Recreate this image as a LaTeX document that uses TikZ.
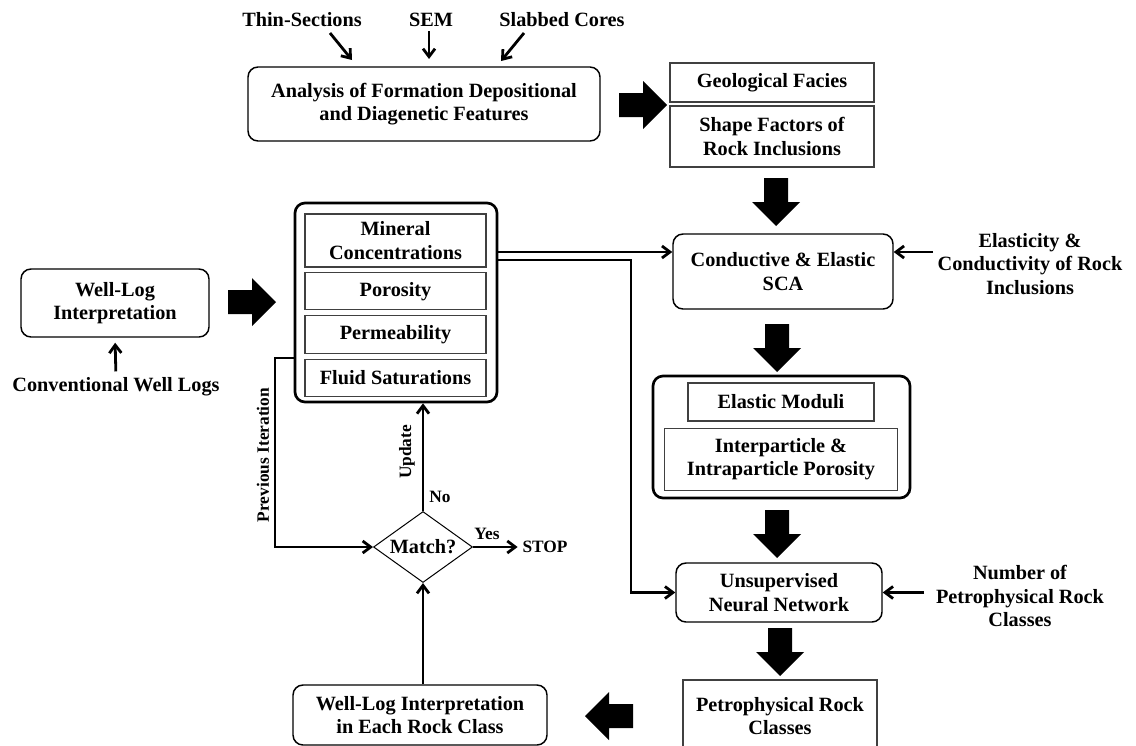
\documentclass[tikz,border=0pt]{standalone}
\usepackage{fontspec}
\setmainfont{Liberation Serif}
\usepackage{tikz}
\usetikzlibrary{arrows.meta}
\usetikzlibrary{shapes.geometric}
\usetikzlibrary{positioning}

\begin{document}
\begin{tikzpicture}[x=0.75pt,y=-0.75pt,node distance=3.5pt]
        \tikzstyle{every node}=[font=\fontsize{15.2}{17.5}\selectfont\bfseries,align=center,inner sep=0pt]
        \tikzstyle{rbox}=[draw,rounded corners=7.5pt,line width=1.1pt]
        \tikzstyle{frame}=[draw,rounded corners=7.5pt,line width=2pt]
        \tikzstyle{sbox}=[draw,black!75,text=black,line width=0.8pt]
        \tikzstyle{link}=[-{Straight Barb[length=6pt,width=9pt]},line width=2.1pt]
        \tikzstyle{small}=[font=\fontsize{13}{15}\selectfont\bfseries]
        \tikzset{fat/.pic={\fill (0,-12) -- (24,-12) -- (24,-24) -- (48,0) -- (24,24) -- (24,12) -- (0,12) -- cycle;}}
        \useasboundingbox (0,0) rectangle (1136,746);
        \clip (0,0) rectangle (1136,746);
        \node (thin) at (302,20) {Thin-Sections};
        \node (sem) at (431,20) {SEM};
        \node (slab) at (562,20) {Slabbed Cores};
        \node[rbox,minimum width=264pt,minimum height=55.5pt] (anal) at (424,104) {Analysis of Formation Depositional\\and Diagenetic Features};
        \coordinate (t1) at (330,33);
        \coordinate (t2) at (352,60);
        \coordinate (s1) at (429,31);
        \coordinate (s2) at (429,59);
        \coordinate (c1) at (524,33);
        \coordinate (c2) at (501,61);
        \draw[link] (t1) -- (t2);
        \draw[link] (s1) -- (s2);
        \draw[link] (c1) -- (c2);
        \pic at (619,105) {fat};
        \node[sbox,minimum width=153pt,minimum height=29.25pt] (geo) at (772,82.5) {Geological Facies};
        \node[sbox,minimum width=153pt,minimum height=45.75pt] (shape) at (772,136.5) {Shape Factors of\\Rock Inclusions};
        \pic[rotate=-90] at (776,178) {fat};
        \node[rbox,minimum width=165pt,minimum height=56.25pt] (cond) at (783,271.5) {Conductive \& Elastic\\SCA};
        \node (elast) at (1030,264) {Elasticity \&\\Conductivity of Rock\\Inclusions};
        \coordinate (elin) at (933,252);
        \draw[link] (elin) -- (elin -| cond.east);
        \node[rbox,minimum width=141pt,minimum height=51pt] (wli) at (115,303) {Well-Log\\Interpretation};
        \node (conv) at (116,387) {Conventional Well Logs};
        \draw[link,shorten <=4.5pt,shorten >=3.75pt] (conv.north) -- (wli.south);
        \pic at (228,302) {fat};
        \node[frame,minimum width=151.5pt,minimum height=149.25pt] (cont) at (396,302.5) {};
        \node[sbox,minimum width=135.75pt,minimum height=39.75pt] (minc) at (395.5,240.5) {Mineral\\Concentrations};
        \node[sbox,minimum width=135.75pt,minimum height=27.75pt,below=of minc] (poro) {Porosity};
        \node[sbox,minimum width=135.75pt,minimum height=28.5pt,below=of poro] (perm) {Permeability};
        \node[sbox,minimum width=135.75pt,minimum height=27.75pt,below=of perm] (fluid) {Fluid Saturations};
        \pic[rotate=-90] at (777,324) {fat};
        \node[frame,minimum width=192.75pt,minimum height=91.5pt] (elbox) at (781.5,437) {};
        \node[sbox,minimum width=139.5pt,minimum height=28.5pt] (mod) at (781,402) {Elastic Moduli};
        \node[sbox,minimum width=174.75pt,minimum height=46.5pt,below=4.5pt of mod] (inter) {Interparticle \&\\Intraparticle Porosity};
        \pic[rotate=-90] at (777,510) {fat};
        \node[rbox,minimum width=154.5pt,minimum height=44.25pt] (unsup) at (779,592.5) {Unsupervised\\Neural Network};
        \node (num) at (1020,596) {Number of\\Petrophysical Rock\\Classes};
        \coordinate (numin) at (924,592.5);
        \draw[link] (numin) -- (unsup.east);
        \coordinate (mc1) at (497,252);
        \coordinate (mc2) at (497,260);
        \coordinate (turn) at (631,260);
        \draw[link] (mc1) -- (mc1 -| cond.west);
        \draw[link] (mc2) -- (turn) |- (unsup.west);
        \pic[rotate=-90] at (780,628) {fat};
        \node[sbox,minimum width=145.5pt,minimum height=54pt] (petro) at (780,716) {Petrophysical Rock\\Classes};
        \pic[rotate=180] at (633,716) {fat};
        \node[rbox,minimum width=190.5pt,minimum height=45pt] (wlr) at (420,715) {Well-Log Interpretation\\in Each Rock Class};
        \node[diamond,draw,line width=0.75pt,aspect=1.4,minimum width=74.25pt,minimum height=53.25pt] (match) at (423,547) {Match?};
        \draw[link] (match.south |- wlr.north) -- (match.south);
        \node[small] (stop) at (545,547) {STOP};
        \draw[link,shorten >=3.5pt] (match.east) -- (stop.west);
        \node[small] (yes) at (487,534) {Yes};
        \node[small] (no) at (440,497) {No};
        \draw[link] (match.north) -- (match.north |- cont.south);
        \node[small,rotate=90] (upd) at (407,452) {Update};
        \coordinate (prev) at (295,358);
        \coordinate (prevturn) at (275,358);
        \draw[link] (prev) -- (prevturn) |- (match.west);
        \node[small,rotate=90] (previt) at (263,455) {Previous Iteration};
\end{tikzpicture}
\end{document}
